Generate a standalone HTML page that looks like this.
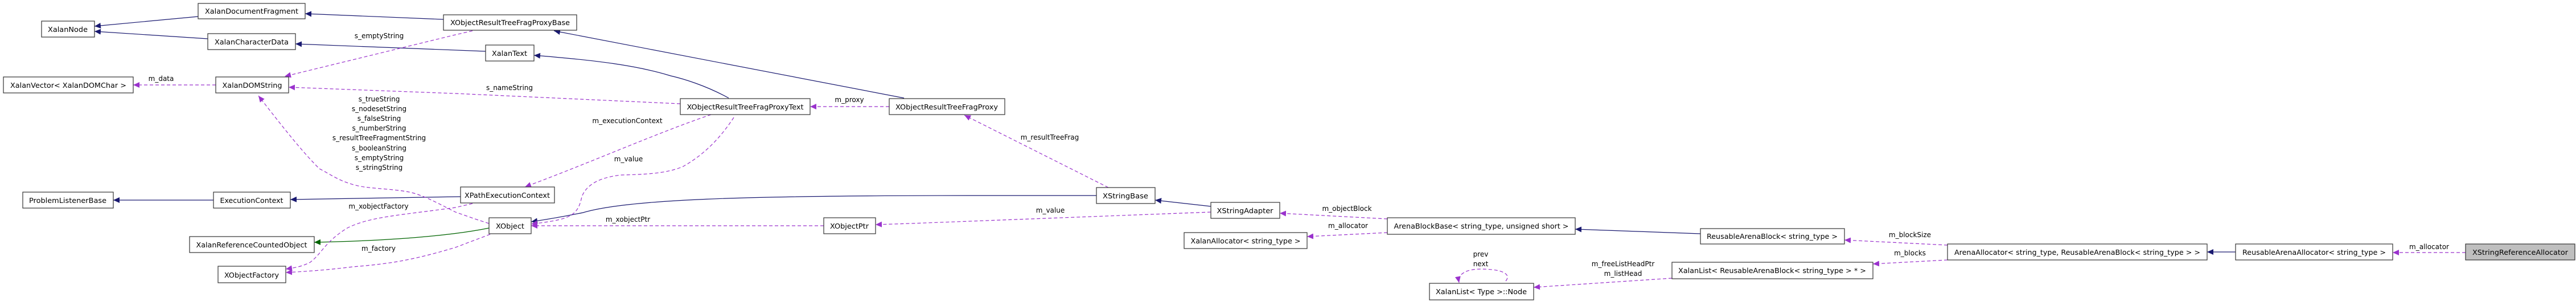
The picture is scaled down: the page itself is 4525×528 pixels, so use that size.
<!DOCTYPE html>
<html><head><meta charset="utf-8"><style>
html,body{margin:0;padding:0;background:#fff;}
svg{display:block;}
text{font-family:"DejaVu Sans","Liberation Sans",sans-serif;font-size:12px;fill:#000;}
.b{fill:#fff;stroke:#333;stroke-width:1.2;}
.n{fill:none;stroke:#191970;stroke-width:1.2;}
.g{fill:none;stroke:#006400;stroke-width:1.2;}
.p{fill:none;stroke:#9a32cd;stroke-width:1.2;stroke-dasharray:6,4;}
</style></head><body>
<svg width="4525" height="528" viewBox="0 0 4525 528" xmlns="http://www.w3.org/2000/svg">
<defs>
<marker id="mn" markerUnits="userSpaceOnUse" markerWidth="12" markerHeight="10" refX="11" refY="5" orient="auto"><path d="M0,0 L11,5 L0,10 z" fill="#191970"/></marker>
<marker id="mg" markerUnits="userSpaceOnUse" markerWidth="12" markerHeight="10" refX="11" refY="5" orient="auto"><path d="M0,0 L11,5 L0,10 z" fill="#006400"/></marker>
<marker id="mp" markerUnits="userSpaceOnUse" markerWidth="12" markerHeight="10" refX="11" refY="5" orient="auto"><path d="M0,0 L11,5 L0,10 z" fill="#9a32cd"/></marker>
</defs>

<path class="n" marker-end="url(#mn)" d="M348,29 L166,46"/>
<path class="n" marker-end="url(#mn)" d="M365,68 L166,55"/>
<path class="n" marker-end="url(#mn)" d="M779,34 L536,24"/>
<path class="n" marker-end="url(#mn)" d="M853,90 L519,77"/>
<path class="n" marker-end="url(#mn)" d="M1280,172 C1240,150 1200,138 1178,133 C1120,115 1050,106 938,97"/>
<path class="n" marker-end="url(#mn)" d="M1588,172 L973,54"/>
<path class="n" marker-end="url(#mn)" d="M809,345 L510,350"/>
<path class="n" marker-end="url(#mn)" d="M375,351 L199,351"/>
<path class="g" marker-end="url(#mg)" d="M859,400 C800,412 700,422 552,425"/>
<path class="n" marker-end="url(#mn)" d="M1926,343 L1700,343 C1300,343 1100,350 1024,373 C990,380 960,385 933,389"/>
<path class="n" marker-end="url(#mn)" d="M2127,362 L2029,351"/>
<path class="n" marker-end="url(#mn)" d="M2987,410 L2767,402"/>
<path class="n" marker-end="url(#mn)" d="M3927,442 L3877,442"/>

<path class="p" marker-end="url(#mp)" d="M830,54 L800,61 L500,134"/>
<path class="p" marker-end="url(#mp)" d="M379,149 L234,149"/>
<path class="p" marker-end="url(#mp)" d="M1195,182 L800,164 L507,153"/>
<path class="p" marker-end="url(#mp)" d="M859,392 C830,383 812,376 800,372 C770,357 740,340 714,336 C690,332 663,331 640,328 C600,322 580,305 561,296 C535,270 510,240 454,168"/>
<path class="p" marker-end="url(#mp)" d="M830,357 L800,364 C700,378 650,380 610,400 C570,425 565,445 545,460 C530,468 515,470 502,472"/>
<path class="p" marker-end="url(#mp)" d="M861,411 L800,434 C720,458 680,463 620,468 C570,474 540,476 502,478"/>
<path class="p" marker-end="url(#mp)" d="M1249,201 C1150,235 1050,280 922,328"/>
<path class="p" marker-end="url(#mp)" d="M1289,206 C1260,250 1230,275 1200,292 C1170,305 1130,306 1090,307 C1050,312 1030,325 1022,345 C1015,380 1000,385 933,393"/>
<path class="p" marker-end="url(#mp)" d="M1562,187 L1423,187"/>
<path class="p" marker-end="url(#mp)" d="M1947,329 L1694,202"/>
<path class="p" marker-end="url(#mp)" d="M1447,396 L933,396"/>
<path class="p" marker-end="url(#mp)" d="M2127,372 L1600,392 L1538,394"/>
<path class="p" marker-end="url(#mp)" d="M2437,384 L2248,374"/>
<path class="p" marker-end="url(#mp)" d="M2437,408 L2296,415"/>
<path class="p" marker-end="url(#mp)" d="M3421,430 L3240,421"/>
<path class="p" marker-end="url(#mp)" d="M3421,456 L3290,463"/>
<path class="p" marker-end="url(#mp)" d="M2937,488 L2694,504"/>
<path class="p" marker-end="url(#mp)" d="M2645,493 C2655,481 2640,472 2601,472 C2575,472 2560,481 2563,496"/>
<path class="p" marker-end="url(#mp)" d="M4331,443 L4203,443"/>

<g>
<rect class="b" x="348" y="6" width="188" height="27"/><text x="442" y="24" text-anchor="middle" textLength="164" lengthAdjust="spacingAndGlyphs">XalanDocumentFragment</text>
<rect class="b" x="73" y="37" width="93" height="28"/><text x="119" y="56" text-anchor="middle" textLength="70" lengthAdjust="spacingAndGlyphs">XalanNode</text>
<rect class="b" x="365" y="59" width="154" height="28"/><text x="442" y="78" text-anchor="middle" textLength="130" lengthAdjust="spacingAndGlyphs">XalanCharacterData</text>
<rect class="b" x="779" y="26" width="234" height="27"/><text x="896" y="44" text-anchor="middle" textLength="210" lengthAdjust="spacingAndGlyphs">XObjectResultTreeFragProxyBase</text>
<rect class="b" x="853" y="79" width="85" height="28"/><text x="895" y="98" text-anchor="middle" textLength="62" lengthAdjust="spacingAndGlyphs">XalanText</text>
<rect class="b" x="6" y="135" width="228" height="28"/><text x="120" y="154" text-anchor="middle" textLength="204" lengthAdjust="spacingAndGlyphs">XalanVector&lt; XalanDOMChar &gt;</text>
<rect class="b" x="379" y="135" width="128" height="28"/><text x="443" y="154" text-anchor="middle" textLength="105" lengthAdjust="spacingAndGlyphs">XalanDOMString</text>
<rect class="b" x="1195" y="173" width="228" height="28"/><text x="1309" y="192" text-anchor="middle" textLength="205" lengthAdjust="spacingAndGlyphs">XObjectResultTreeFragProxyText</text>
<rect class="b" x="1562" y="173" width="203" height="28"/><text x="1663" y="192" text-anchor="middle" textLength="180" lengthAdjust="spacingAndGlyphs">XObjectResultTreeFragProxy</text>
<rect class="b" x="40" y="337" width="159" height="28"/><text x="119" y="356" text-anchor="middle" textLength="136" lengthAdjust="spacingAndGlyphs">ProblemListenerBase</text>
<rect class="b" x="375" y="337" width="135" height="28"/><text x="442" y="356" text-anchor="middle" textLength="111" lengthAdjust="spacingAndGlyphs">ExecutionContext</text>
<rect class="b" x="809" y="328" width="165" height="28"/><text x="891" y="347" text-anchor="middle" textLength="150" lengthAdjust="spacingAndGlyphs">XPathExecutionContext</text>
<rect class="b" x="859" y="382" width="74" height="28"/><text x="896" y="401" text-anchor="middle" textLength="50" lengthAdjust="spacingAndGlyphs">XObject</text>
<rect class="b" x="333" y="415" width="219" height="28"/><text x="442" y="434" text-anchor="middle" textLength="195" lengthAdjust="spacingAndGlyphs">XalanReferenceCountedObject</text>
<rect class="b" x="383" y="467" width="119" height="29"/><text x="442" y="487" text-anchor="middle" textLength="96" lengthAdjust="spacingAndGlyphs">XObjectFactory</text>
<rect class="b" x="1447" y="382" width="91" height="28"/><text x="1492" y="401" text-anchor="middle" textLength="68" lengthAdjust="spacingAndGlyphs">XObjectPtr</text>
<rect class="b" x="1926" y="329" width="103" height="28"/><text x="1977" y="348" text-anchor="middle" textLength="80" lengthAdjust="spacingAndGlyphs">XStringBase</text>
<rect class="b" x="2127" y="355" width="121" height="28"/><text x="2187" y="374" text-anchor="middle" textLength="99" lengthAdjust="spacingAndGlyphs">XStringAdapter</text>
<rect class="b" x="2080" y="408" width="216" height="28"/><text x="2188" y="427" text-anchor="middle" textLength="193" lengthAdjust="spacingAndGlyphs">XalanAllocator&lt; string_type &gt;</text>
<rect class="b" x="2437" y="382" width="330" height="29"/><text x="2602" y="401" text-anchor="middle" textLength="307" lengthAdjust="spacingAndGlyphs">ArenaBlockBase&lt; string_type, unsigned short &gt;</text>
<rect class="b" x="2987" y="401" width="253" height="27"/><text x="3113" y="419" text-anchor="middle" textLength="230" lengthAdjust="spacingAndGlyphs">ReusableArenaBlock&lt; string_type &gt;</text>
<rect class="b" x="2511" y="497" width="183" height="29"/><text x="2602" y="516" text-anchor="middle" textLength="160" lengthAdjust="spacingAndGlyphs">XalanList&lt; Type &gt;::Node</text>
<rect class="b" x="2937" y="460" width="353" height="29"/><text x="3113" y="479" text-anchor="middle" textLength="330" lengthAdjust="spacingAndGlyphs">XalanList&lt; ReusableArenaBlock&lt; string_type &gt; * &gt;</text>
<rect class="b" x="3421" y="428" width="456" height="28"/><text x="3649" y="447" text-anchor="middle" textLength="432" lengthAdjust="spacingAndGlyphs">ArenaAllocator&lt; string_type, ReusableArenaBlock&lt; string_type &gt; &gt;</text>
<rect class="b" x="3927" y="428" width="276" height="28"/><text x="4065" y="447" text-anchor="middle" textLength="252" lengthAdjust="spacingAndGlyphs">ReusableArenaAllocator&lt; string_type &gt;</text>
<rect x="4331" y="428" width="192" height="28" fill="#bfbfbf" stroke="#333" stroke-width="1.2"/><text x="4427" y="447" text-anchor="middle" textLength="168" lengthAdjust="spacingAndGlyphs">XStringReferenceAllocator</text>
</g>

<g text-anchor="middle">
<text x="666" y="67">s_emptyString</text>
<text x="283" y="142">m_data</text>
<text x="666" y="178">s_trueString</text>
<text x="666" y="195">s_nodesetString</text>
<text x="666" y="212">s_falseString</text>
<text x="666" y="229">s_numberString</text>
<text x="666" y="246">s_resultTreeFragmentString</text>
<text x="666" y="264">s_booleanString</text>
<text x="666" y="281">s_emptyString</text>
<text x="666" y="298">s_stringString</text>
<text x="665" y="366">m_xobjectFactory</text>
<text x="665" y="440">m_factory</text>
<text x="895" y="158">s_nameString</text>
<text x="1102" y="216">m_executionContext</text>
<text x="1104" y="283">m_value</text>
<text x="1103" y="389">m_xobjectPtr</text>
<text x="1492" y="179">m_proxy</text>
<text x="1844" y="245">m_resultTreeFrag</text>
<text x="1845" y="373">m_value</text>
<text x="2366" y="370">m_objectBlock</text>
<text x="2368" y="400">m_allocator</text>
<text x="2601" y="450">prev</text>
<text x="2601" y="467">next</text>
<text x="2851" y="467">m_freeListHeadPtr</text>
<text x="2851" y="484">m_listHead</text>
<text x="3355" y="416">m_blockSize</text>
<text x="3355" y="448">m_blocks</text>
<text x="4267" y="437">m_allocator</text>
</g>
</svg>
</body></html>
